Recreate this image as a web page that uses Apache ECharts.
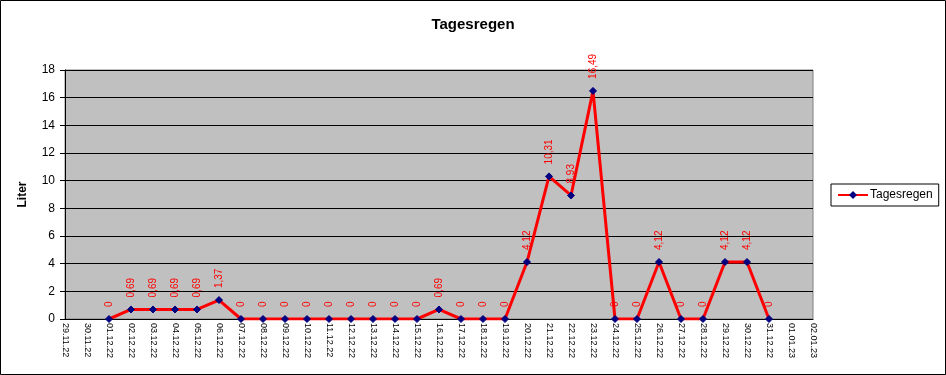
<!DOCTYPE html>
<html>
<head>
<meta charset="utf-8">
<script src="https://cdn.jsdelivr.net/npm/echarts@6/dist/echarts.min.js"></script>
<style>html,body{margin:0;padding:0;background:#fff;}#c{width:946px;height:375px;}</style>
</head>
<body>
<div id="c"></div>
<script>
var categories = ['29.11.22','30.11.22','01.12.22','02.12.22','03.12.22','04.12.22','05.12.22','06.12.22','07.12.22','08.12.22','09.12.22','10.12.22','11.12.22','12.12.22','13.12.22','14.12.22','15.12.22','16.12.22','17.12.22','18.12.22','19.12.22','20.12.22','21.12.22','22.12.22','23.12.22','24.12.22','25.12.22','26.12.22','27.12.22','28.12.22','29.12.22','30.12.22','31.12.22','01.01.23','02.01.23'];
var tagesregen = [null,null,0,0.69,0.69,0.69,0.69,1.37,0,0,0,0,0,0,0,0,0,0.69,0,0,0,4.12,10.31,8.93,16.49,0,0,4.12,0,0,4.12,4.12,0,null,null];
var yTicks = [0,2,4,6,8,10,12,14,16,18];

var chart = echarts.init(document.getElementById('c'), null, {renderer:'canvas'});
chart.setOption({
  animation:false,
  backgroundColor:'#fff',
  textStyle:{fontFamily:'Liberation Sans, Arial, sans-serif'},
  title:{text:'Tagesregen',left:'center',top:12,textStyle:{fontSize:15,fontWeight:'bold',color:'#000',fontFamily:'Liberation Sans, Arial, sans-serif'}},
  legend:{
    data:['Tagesregen'],left:831,top:184,orient:'vertical',
    borderColor:'#000',borderWidth:1,padding:[5,6,5,6],
    itemWidth:30,itemHeight:10,itemGap:0,
    textStyle:{fontSize:12,color:'#000',fontFamily:'Liberation Sans, Arial, sans-serif',padding:[0,0,0,-3]}
  },
  graphic:[{type:'rect',shape:{x:0.5,y:0.5,width:945,height:374},style:{fill:'none',stroke:'#000',lineWidth:1},silent:true,z:-1}],
  grid:{left:65,right:133,top:70,bottom:56,show:true,backgroundColor:'#C0C0C0',borderColor:'#808080',borderWidth:1},
  xAxis:{
    type:'category',data:categories,boundaryGap:false,
    axisLine:{lineStyle:{color:'#000',width:1}},
    axisTick:{show:false},
    axisLabel:{rotate:-90,interval:0,fontSize:9,color:'#000',margin:4,fontFamily:'Liberation Sans, Arial, sans-serif'},
    splitLine:{show:false}
  },
  yAxis:{
    type:'value',min:0,max:18,interval:2,name:'Liter',nameLocation:'middle',nameGap:36,nameRotate:90,
    nameTextStyle:{fontSize:12,fontWeight:'bold',color:'#000'},
    axisLine:{show:true,lineStyle:{color:'#000',width:1}},
    axisTick:{show:true,length:5,lineStyle:{color:'#000'}},
    axisLabel:{fontSize:12,color:'#000',margin:10,formatter:function(v){return yTicks.indexOf(v)>=0?String(v):'';}},
    splitLine:{show:true,lineStyle:{color:'#000',width:1}}
  },
  series:[{
    name:'Tagesregen',type:'line',data:tagesregen,connectNulls:false,
    lineStyle:{color:'#FF0000',width:3},
    itemStyle:{color:'#000080',borderColor:'#000080'},
    symbol:'diamond',symbolSize:7,showAllSymbol:true,
    label:{show:true,position:'top',rotate:90,align:'left',verticalAlign:'middle',distance:8,
      color:'#FF0000',fontSize:10,fontFamily:'Liberation Sans, Arial, sans-serif',
      formatter:function(p){return String(p.value).replace('.',',');}}
  }]
});
</script>
</body>
</html>
